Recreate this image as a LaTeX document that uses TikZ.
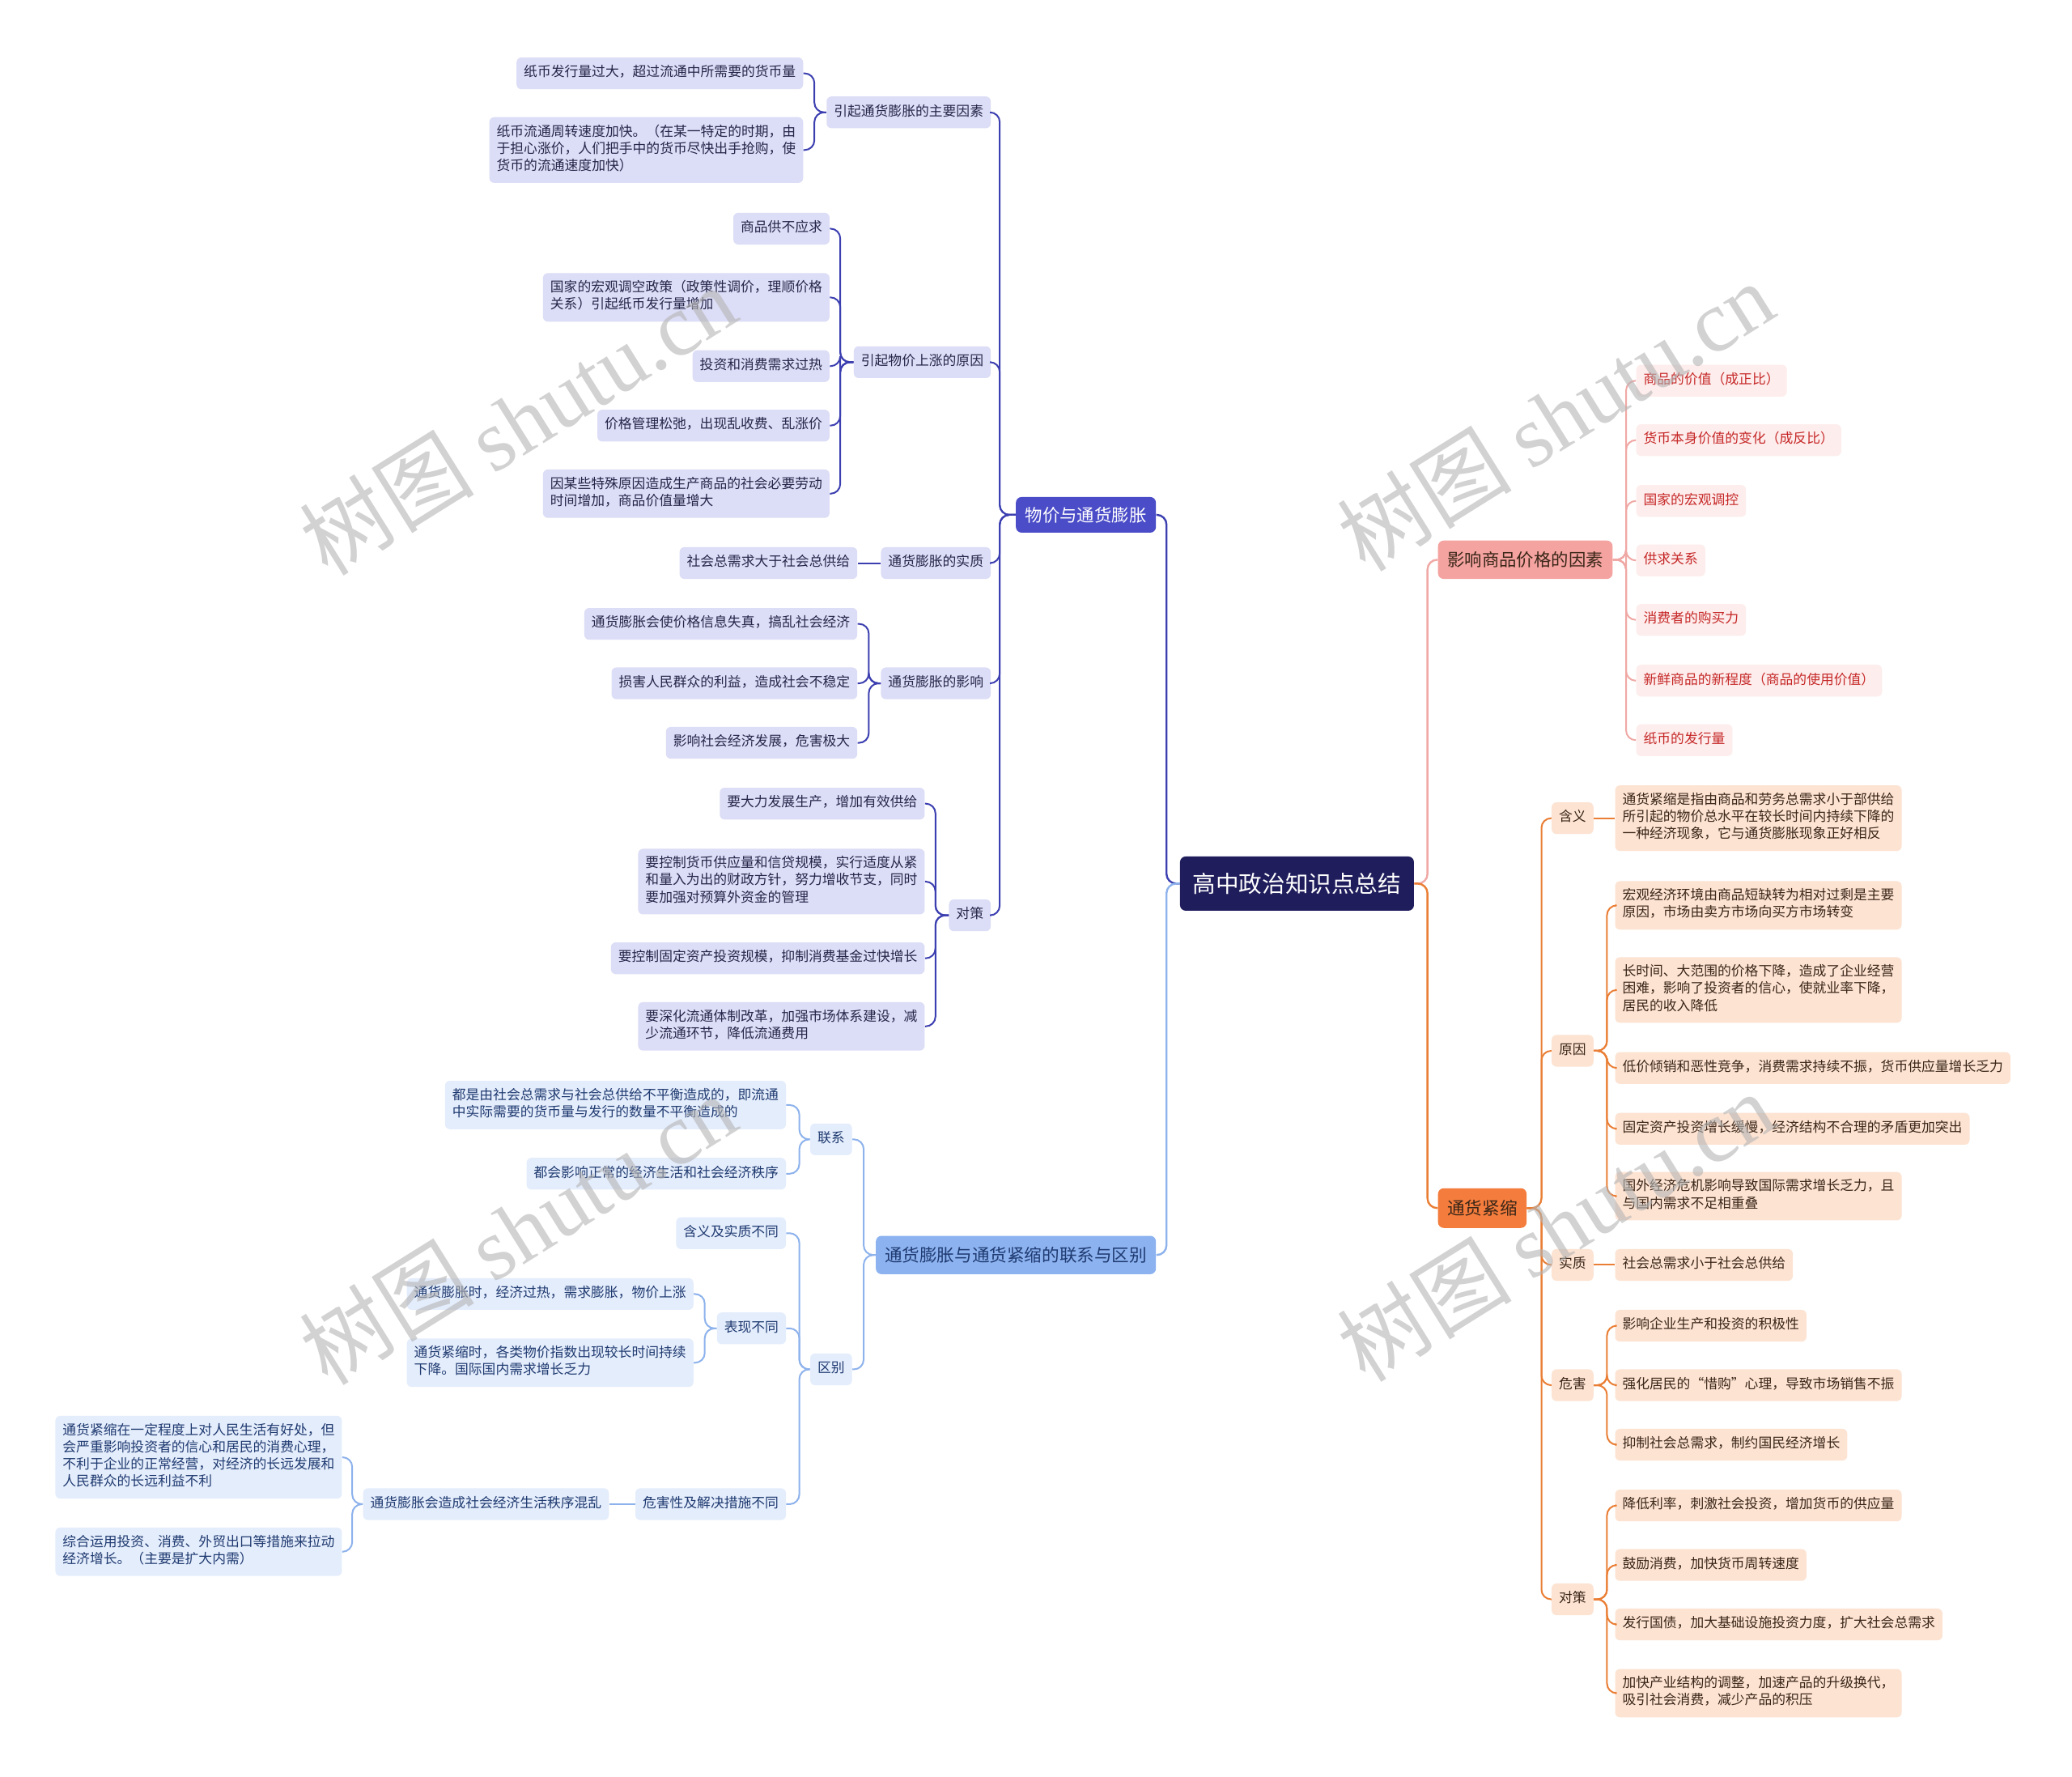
\documentclass[tikz,border=0pt]{standalone}
\usepackage{fontspec}
\setmainfont{Noto Sans CJK SC}
\newfontfamily\wmfont{Liberation Serif}
\usetikzlibrary{calc}
\definecolor{rootF}{HTML}{1F1D5C}
\definecolor{bAF}{HTML}{4A4CC8}
\definecolor{lineA}{HTML}{3C3FB0}
\definecolor{fillA}{HTML}{DCDDF6}
\definecolor{textA}{HTML}{26264A}
\definecolor{bBF}{HTML}{8CB2F0}
\definecolor{lineB}{HTML}{8DB2EC}
\definecolor{fillB}{HTML}{E4EDFC}
\definecolor{textB}{HTML}{1F3A70}
\definecolor{bCF}{HTML}{F4A3A0}
\definecolor{lineC}{HTML}{F0A8A5}
\definecolor{fillC}{HTML}{FDEDEC}
\definecolor{textC}{HTML}{C62828}
\definecolor{bDF}{HTML}{F47C3C}
\definecolor{lineD}{HTML}{EA7E35}
\definecolor{fillD}{HTML}{FDE3D2}
\definecolor{textD}{HTML}{3A2618}
\definecolor{wmC}{HTML}{B4B4B4}
\begin{document}
\begin{tikzpicture}[x=0.8163pt,y=-0.8163pt,
  box/.style={rounded corners=3pt, inner xsep=4.5pt, inner ysep=4.5pt, align=left,
    font=\fontsize{8.4}{10.6}\selectfont, execute at begin node=\strut, execute at end node=\strut},
  pA/.style={box, fill=fillA, text=textA},
  pB/.style={box, fill=fillB, text=textB},
  pC/.style={box, fill=fillC, text=textC},
  pD/.style={box, fill=fillD, text=textD},
  mainbox/.style={rounded corners=3.5pt, inner sep=0pt},
  rootn/.style={mainbox, fill=rootF, text=white, minimum width=144.5pt, minimum height=33.5pt, font=\fontsize{14.3}{17}\selectfont},
  bAn/.style={mainbox, fill=bAF, text=white, minimum width=86.5pt, minimum height=22pt, font=\fontsize{10.7}{13}\selectfont},
  bBn/.style={mainbox, fill=bBF, text=textB, minimum width=173pt, minimum height=23.7pt, font=\fontsize{10.8}{13}\selectfont},
  bCn/.style={mainbox, fill=bCF, text=textD, minimum width=107.8pt, minimum height=23.7pt, font=\fontsize{10.7}{13}\selectfont},
  bDn/.style={mainbox, fill=bDF, text=textD, minimum width=54.7pt, minimum height=24.5pt, font=\fontsize{10.8}{13}\selectfont},
  lnA/.style={draw=lineA, line width=1pt, rounded corners=6pt},
  lnB/.style={draw=lineB, line width=1pt, rounded corners=6pt},
  lnC/.style={draw=lineC, line width=1pt, rounded corners=6pt},
  lnD/.style={draw=lineD, line width=1pt, rounded corners=6pt},
  wm/.style={text=wmC, opacity=0.6, font=\fontsize{54}{54}\selectfont, inner sep=0pt}
]
\useasboundingbox[fill=white] (0,0) rectangle (1568,1344);

% root and main branches
\node[rootn] (root) at (981.5,668.5) {高中政治知识点总结};
\node[bAn, anchor=east] (b1) at (875,389.5) {物价与通货膨胀};
\node[bBn, anchor=east] (b2) at (875,949.5) {通货膨胀与通货紧缩的联系与区别};
\node[bCn, anchor=west] (b3) at (1088,423.5) {影响商品价格的因素};
\node[bDn, anchor=west] (b4) at (1088,914) {通货紧缩};

% branch 1 subs
\node[pA, anchor=east] (a1) at (750,85) {引起通货膨胀的主要因素};
\node[pA, anchor=east] (a2) at (750,274) {引起物价上涨的原因};
\node[pA, anchor=east] (a3) at (750,426) {通货膨胀的实质};
\node[pA, anchor=east] (a4) at (750,517) {通货膨胀的影响};
\node[pA, anchor=east] (a5) at (750,692.5) {对策};

\node[pA, anchor=east] (a1x) at (608,55.5) {纸币发行量过大，超过流通中所需要的货币量};
\node[pA, anchor=east] (a1y) at (608,113.5) {纸币流通周转速度加快。（在某一特定的时期，由\\于担心涨价，人们把手中的货币尽快出手抢购，使\\货币的流通速度加快）};

\node[pA, anchor=east] (a2a) at (628,173) {商品供不应求};
\node[pA, anchor=east] (a2b) at (628,225) {国家的宏观调空政策（政策性调价，理顺价格\\关系）引起纸币发行量增加};
\node[pA, anchor=east] (a2c) at (628,277) {投资和消费需求过热};
\node[pA, anchor=east] (a2d) at (628,322) {价格管理松弛，出现乱收费、乱涨价};
\node[pA, anchor=east] (a2e) at (628,373.5) {因某些特殊原因造成生产商品的社会必要劳动\\时间增加，商品价值量增大};

\node[pA, anchor=east] (a3a) at (649,426) {社会总需求大于社会总供给};

\node[pA, anchor=east] (a4a) at (649,472) {通货膨胀会使价格信息失真，搞乱社会经济};
\node[pA, anchor=east] (a4b) at (649,517) {损害人民群众的利益，造成社会不稳定};
\node[pA, anchor=east] (a4c) at (649,562) {影响社会经济发展，危害极大};

\node[pA, anchor=east] (a5a) at (700,608) {要大力发展生产，增加有效供给};
\node[pA, anchor=east] (a5b) at (700,667) {要控制货币供应量和信贷规模，实行适度从紧\\和量入为出的财政方针，努力增收节支，同时\\要加强对预算外资金的管理};
\node[pA, anchor=east] (a5c) at (700,725) {要控制固定资产投资规模，抑制消费基金过快增长};
\node[pA, anchor=east] (a5d) at (700,776.5) {要深化流通体制改革，加强市场体系建设，减\\少流通环节，降低流通费用};

% branch 2
\node[pB, anchor=east] (c1) at (645,862) {联系};
\node[pB, anchor=east] (c2) at (645,1036) {区别};
\node[pB, anchor=east] (c1a) at (595,836) {都是由社会总需求与社会总供给不平衡造成的，即流通\\中实际需要的货币量与发行的数量不平衡造成的};
\node[pB, anchor=east] (c1b) at (595,888) {都会影响正常的经济生活和社会经济秩序};
\node[pB, anchor=east] (c2a) at (595,933) {含义及实质不同};
\node[pB, anchor=east] (c2b) at (595,1005) {表现不同};
\node[pB, anchor=east] (c2c) at (595,1138) {危害性及解决措施不同};
\node[pB, anchor=east] (c2b1) at (525,979) {通货膨胀时，经济过热，需求膨胀，物价上涨};
\node[pB, anchor=east] (c2b2) at (525,1031) {通货紧缩时，各类物价指数出现较长时间持续\\下降。国际国内需求增长乏力};
\node[pB, anchor=east] (c2c1) at (461,1138) {通货膨胀会造成社会经济生活秩序混乱};
\node[pB, anchor=east] (c2c1a) at (259,1102.5) {通货紧缩在一定程度上对人民生活有好处，但\\会严重影响投资者的信心和居民的消费心理，\\不利于企业的正常经营，对经济的长远发展和\\人民群众的长远利益不利};
\node[pB, anchor=east] (c2c1b) at (259,1174) {综合运用投资、消费、外贸出口等措施来拉动\\经济增长。（主要是扩大内需）};

% branch 3
\node[pC, anchor=west] (r1) at (1238,288) {商品的价值（成正比）};
\node[pC, anchor=west] (r2) at (1238,333) {货币本身价值的变化（成反比）};
\node[pC, anchor=west] (r3) at (1238,379) {国家的宏观调控};
\node[pC, anchor=west] (r4) at (1238,424) {供求关系};
\node[pC, anchor=west] (r5) at (1238,469) {消费者的购买力};
\node[pC, anchor=west] (r6) at (1238,515) {新鲜商品的新程度（商品的使用价值）};
\node[pC, anchor=west] (r7) at (1238,560) {纸币的发行量};

% branch 4
\node[pD, anchor=west] (d1) at (1174,619) {含义};
\node[pD, anchor=west] (d2) at (1174,795) {原因};
\node[pD, anchor=west] (d3) at (1174,957) {实质};
\node[pD, anchor=west] (d4) at (1174,1048) {危害};
\node[pD, anchor=west] (d5) at (1174,1210) {对策};

\node[pD, anchor=west] (d1a) at (1222,619) {通货紧缩是指由商品和劳务总需求小于部供给\\所引起的物价总水平在较长时间内持续下降的\\一种经济现象，它与通货膨胀现象正好相反};
\node[pD, anchor=west] (d2a) at (1222,685) {宏观经济环境由商品短缺转为相对过剩是主要\\原因，市场由卖方市场向买方市场转变};
\node[pD, anchor=west] (d2b) at (1222,749) {长时间、大范围的价格下降，造成了企业经营\\困难，影响了投资者的信心，使就业率下降，\\居民的收入降低};
\node[pD, anchor=west] (d2c) at (1222,808) {低价倾销和恶性竞争，消费需求持续不振，货币供应量增长乏力};
\node[pD, anchor=west] (d2d) at (1222,854) {固定资产投资增长缓慢，经济结构不合理的矛盾更加突出};
\node[pD, anchor=west] (d2e) at (1222,905) {国外经济危机影响导致国际需求增长乏力，且\\与国内需求不足相重叠};
\node[pD, anchor=west] (d3a) at (1222,957) {社会总需求小于社会总供给};
\node[pD, anchor=west] (d4a) at (1222,1003) {影响企业生产和投资的积极性};
\node[pD, anchor=west] (d4b) at (1222,1048) {强化居民的“惜购”心理，导致市场销售不振};
\node[pD, anchor=west] (d4c) at (1222,1093) {抑制社会总需求，制约国民经济增长};
\node[pD, anchor=west] (d5a) at (1222,1139) {降低利率，刺激社会投资，增加货币的供应量};
\node[pD, anchor=west] (d5b) at (1222,1184) {鼓励消费，加快货币周转速度};
\node[pD, anchor=west] (d5c) at (1222,1229) {发行国债，加大基础设施投资力度，扩大社会总需求};
\node[pD, anchor=west] (d5d) at (1222,1281) {加快产业结构的调整，加速产品的升级换代，\\吸引社会消费，减少产品的积压};

% connectors: root
\draw[lnA, line width=1.2pt] (root.west) -- ++(-10,0) |- (b1.east);
\draw[lnB, line width=1.2pt] (root.west) -- ++(-10,0) |- (b2.east);
\draw[lnC, line width=1.2pt] (root.east) -- ++(10,0) |- (b3.west);
\draw[lnD, line width=1.2pt] (root.east) -- ++(10,0) |- (b4.west);

% branch 1
\foreach \c in {a1,a2,a3,a4,a5} \draw[lnA] (b1.west) -- ++(-12,0) |- (\c.east);
\foreach \c in {a1x,a1y} \draw[lnA] (a1.west) -- ++(-9,0) |- (\c.east);
\foreach \c in {a2a,a2b,a2c,a2d,a2e} \draw[lnA] (a2.west) -- ++(-10,0) |- (\c.east);
\draw[lnA] (a3.west) -- (a3a.east);
\foreach \c in {a4a,a4b,a4c} \draw[lnA] (a4.west) -- ++(-9,0) |- (\c.east);
\foreach \c in {a5a,a5b,a5c,a5d} \draw[lnA] (a5.west) -- ++(-10,0) |- (\c.east);

% branch 2
\foreach \c in {c1,c2} \draw[lnB] (b2.west) -- ++(-9,0) |- (\c.east);
\foreach \c in {c1a,c1b} \draw[lnB] (c1.west) -- ++(-8,0) |- (\c.east);
\foreach \c in {c2a,c2b,c2c} \draw[lnB] (c2.west) -- ++(-8,0) |- (\c.east);
\foreach \c in {c2b1,c2b2} \draw[lnB] (c2b.west) -- ++(-9,0) |- (\c.east);
\draw[lnB] (c2c.west) -- (c2c1.east);
\foreach \c in {c2c1a,c2c1b} \draw[lnB] (c2c1.west) -- ++(-8,0) |- (\c.east);

% branch 3
\foreach \c in {r1,r2,r3,r4,r5,r6,r7} \draw[lnC] (b3.east) -- ++(10,0) |- (\c.west);

% branch 4
\foreach \c in {d1,d2,d3,d4,d5} \draw[lnD] (b4.east) -- ++(11,0) |- (\c.west);
\draw[lnD] (d1.east) -- (d1a.west);
\foreach \c in {d2a,d2b,d2c,d2d,d2e} \draw[lnD] (d2.east) -- ++(10,0) |- (\c.west);
\draw[lnD] (d3.east) -- (d3a.west);
\foreach \c in {d4a,d4b,d4c} \draw[lnD] (d4.east) -- ++(10,0) |- (\c.west);
\foreach \c in {d5a,d5b,d5c,d5d} \draw[lnD] (d5.east) -- ++(10,0) |- (\c.west);

% watermarks
\node[wm, rotate=32] (wm1) at (392,318) {树图 {\wmfont shutu.cn}};
\node[wm, rotate=32] (wm2) at (1177,315) {树图 {\wmfont shutu.cn}};
\node[wm, rotate=32] (wm3) at (392,930) {树图 {\wmfont shutu.cn}};
\node[wm, rotate=32] (wm4) at (1177,928) {树图 {\wmfont shutu.cn}};
\end{tikzpicture}
\end{document}
